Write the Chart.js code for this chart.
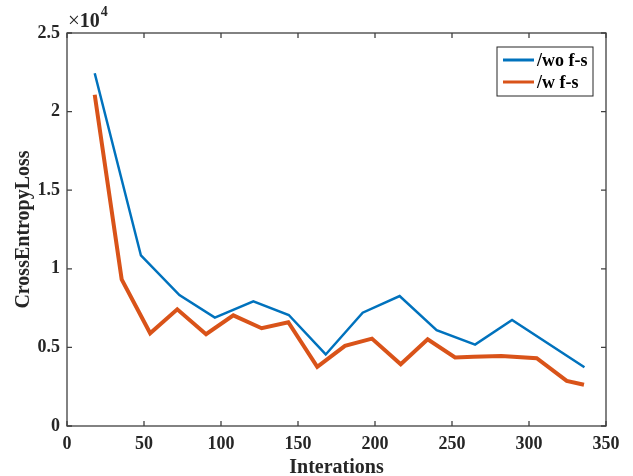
<!DOCTYPE html>
<html>
<head>
<meta charset="utf-8">
<script src="https://cdn.jsdelivr.net/npm/chart.js@4"></script>
<style>
  html, body { margin: 0; padding: 0; background: #fff; }
  #wrap { width: 633px; height: 476px; }
</style>
</head>
<body>
<div id="wrap"><canvas id="lossChart" width="633" height="476"></canvas></div>
<script>
// values (x = iteration, y = loss)
const woIters = [18, 48, 73, 96, 121, 144, 168, 192, 216, 240, 265, 289, 336];
const woLoss  = [22440, 10850, 8330, 6900, 7930, 7060, 4550, 7210, 8270, 6090, 5180, 6740, 3740];
const wIters  = [18, 35.5, 54, 71.6, 90.3, 108, 126.4, 143.7, 162.5, 180.5, 198, 216.7, 234.2, 252, 264, 282, 305, 324.5, 335.7];
const wLoss   = [21070, 9330, 5900, 7420, 5840, 7040, 6220, 6600, 3760, 5100, 5560, 3930, 5520, 4360, 4400, 4460, 4310, 2870, 2620];
const seriesNames = ["/wo f-s", "/w f-s"];
const xTicks = [0, 50, 100, 150, 200, 250, 300, 350];
const yTicks = [0, 5000, 10000, 15000, 20000, 25000];

const axisColor = "#262626";
const serif = "'Liberation Serif', 'Times New Roman', serif";

function toPoints(xs, ys) {
    return xs.map((x, i) => ({ x: x, y: ys[i] }));
}

// box, inward ticks, legend and the x10^4 label, all placed from the chart's scales
const matlabBox = {
    id: "matlabBox",
    afterDraw(chart) {
        const ctx = chart.ctx;
        const area = chart.chartArea;
        const xs = chart.scales.x;
        const ys = chart.scales.y;
        const tl = 5;

        ctx.save();
        ctx.strokeStyle = "#404040";
        ctx.lineWidth = 1.3;
        ctx.strokeRect(area.left, area.top, area.right - area.left, area.bottom - area.top);

        ctx.beginPath();
        xTicks.forEach(v => {
            const px = xs.getPixelForValue(v);
            ctx.moveTo(px, area.bottom); ctx.lineTo(px, area.bottom - tl);
            ctx.moveTo(px, area.top); ctx.lineTo(px, area.top + tl);
        });
        yTicks.forEach(v => {
            const py = ys.getPixelForValue(v);
            ctx.moveTo(area.left, py); ctx.lineTo(area.left + tl, py);
            ctx.moveTo(area.right, py); ctx.lineTo(area.right - tl, py);
        });
        ctx.stroke();

        // exponent label
        ctx.fillStyle = axisColor;
        ctx.textBaseline = "alphabetic";
        ctx.textAlign = "left";
        ctx.font = "21px " + serif;
        ctx.fillText("\u00d7", area.left + 1, area.top - 6);
        let w = ctx.measureText("\u00d7").width;
        ctx.font = "bold 20px " + serif;
        ctx.fillText("10", area.left + 1 + w, area.top - 6);
        w += ctx.measureText("10").width;
        ctx.font = "bold 14px " + serif;
        ctx.fillText("4", area.left + 2 + w, area.top - 17);

        // legend
        const lx = 497, ly = 47, lw = 96, lh = 49;
        ctx.fillStyle = "#fff";
        ctx.fillRect(lx, ly, lw, lh);
        ctx.lineWidth = 1;
        ctx.strokeStyle = axisColor;
        ctx.strokeRect(lx, ly, lw, lh);
        ctx.font = "bold 18px " + serif;
        ctx.textBaseline = "middle";
        chart.data.datasets.forEach((ds, i) => {
            const yy = ly + 13 + i * 22;
            ctx.strokeStyle = ds.borderColor;
            ctx.lineWidth = 3;
            ctx.beginPath();
            ctx.moveTo(lx + 6, yy); ctx.lineTo(lx + 37, yy);
            ctx.stroke();
            ctx.fillStyle = "#000";
            ctx.fillText(ds.label, lx + 40, yy + 1);
        });
        ctx.restore();
    }
};

new Chart(document.getElementById("lossChart"), {
    type: "line",
    data: {
        datasets: [{
            label: seriesNames[0],
            data: toPoints(woIters, woLoss),
            borderColor: "#0072BD",
            borderWidth: 2.5,
            pointRadius: 0,
            tension: 0,
            fill: false
        }, {
            label: seriesNames[1],
            data: toPoints(wIters, wLoss),
            borderColor: "#D95319",
            borderWidth: 4,
            pointRadius: 0,
            tension: 0,
            fill: false
        }]
    },
    options: {
        responsive: false,
        animation: false,
        layout: { padding: { left: 0, top: 33, right: 27, bottom: 0 } },
        plugins: { legend: { display: false }, tooltip: { enabled: false } },
        scales: {
            x: {
                type: "linear",
                min: 0, max: 350,
                afterFit(scale) { scale.height = 50; },
                afterBuildTicks(scale) { scale.ticks = xTicks.map(v => ({ value: v })); },
                grid: { display: false, drawTicks: false },
                border: { display: false },
                ticks: {
                    padding: 8,
                    color: axisColor,
                    font: { family: serif, size: 18, weight: "bold" }
                },
                title: {
                    display: true,
                    text: "Interations",
                    color: axisColor,
                    padding: { top: 0, bottom: -2 },
                    font: { family: serif, size: 20, weight: "bold", lineHeight: 1.0 }
                }
            },
            y: {
                min: 0, max: 25000,
                afterFit(scale) { scale.width = 67; },
                afterBuildTicks(scale) { scale.ticks = yTicks.map(v => ({ value: v })); },
                grid: { display: false, drawTicks: false },
                border: { display: false },
                ticks: {
                    padding: 7,
                    color: axisColor,
                    font: { family: serif, size: 18, weight: "bold" },
                    callback: v => String(v / 10000)
                },
                title: {
                    display: true,
                    text: "CrossEntropyLoss",
                    color: axisColor,
                    padding: { top: 12, bottom: 0 },
                    font: { family: serif, size: 20, weight: "bold" }
                }
            }
        }
    },
    plugins: [matlabBox]
});
</script>
</body>
</html>
